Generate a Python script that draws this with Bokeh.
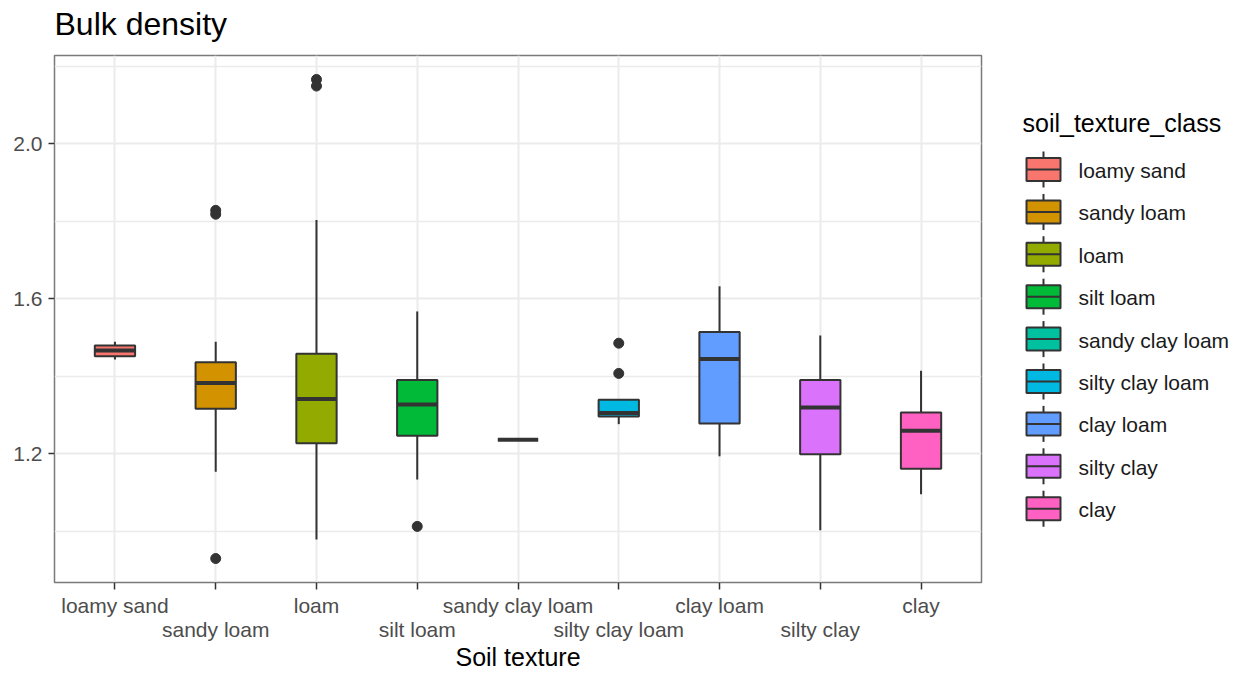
from bokeh.plotting import figure
from bokeh.models import FixedTicker, PrintfTickFormatter, LinearAxis, Range1d, ColumnDataSource, Title
from bokeh.layouts import row
from bokeh.embed import file_html
from bokeh.resources import INLINE

# ---------------- data ----------------
categories = ["loamy sand", "sandy loam", "loam", "silt loam", "sandy clay loam",
              "silty clay loam", "clay loam", "silty clay", "clay"]
q1 = [1.451, 1.316, 1.227, 1.246, 1.236, 1.296, 1.278, 1.198, 1.161]
median = [1.466, 1.382, 1.341, 1.327, 1.236, 1.305, 1.444, 1.319, 1.259]
q3 = [1.479, 1.436, 1.458, 1.390, 1.236, 1.339, 1.514, 1.390, 1.306]
whisker_low = [1.443, 1.153, 0.978, 1.133, 1.236, 1.276, 1.193, 1.002, 1.095]
whisker_high = [1.489, 1.489, 1.803, 1.567, 1.236, 1.339, 1.632, 1.505, 1.414]
outlier_class = ["sandy loam", "sandy loam", "sandy loam", "loam", "loam",
                 "silt loam", "silty clay loam", "silty clay loam"]
outlier_value = [1.828, 1.818, 0.929, 2.166, 2.149, 1.012, 1.485, 1.407]
colors = ["#F8766D", "#D39200", "#93AA00", "#00BA38", "#00C19F",
          "#00B9E3", "#619CFF", "#DB72FB", "#FF61C3"]
y_ticks = [1.2, 1.6, 2.0]
y_minor_ticks = [1.0, 1.4, 1.8, 2.2]
title_text = "Bulk density"
x_title = "Soil texture"
legend_title = "soil_texture_class"

FONT = "Liberation Sans"
EDGE = "#333333"
GRID = "#EBEBEB"
TICK_TXT = "#4D4D4D"
BOX_W = 0.4

# page layout (pixels)
MAIN_W, LEG_W, H = 990, 254, 673
FRAME_L, FRAME_R, FRAME_T, FRAME_B = 54, 981, 55, 582

xs = list(range(1, len(categories) + 1))
src = ColumnDataSource(dict(
    x=xs, cat=categories, q1=q1, q3=q3, med=median,
    lo=whisker_low, hi=whisker_high, color=colors,
    mx0=[v - BOX_W / 2 for v in xs], mx1=[v + BOX_W / 2 for v in xs],
))

all_vals = whisker_low + whisker_high + outlier_value
vmin, vmax = min(all_vals), max(all_vals)
pad = (vmax - vmin) * 0.05

p = figure(width=MAIN_W, height=H,
           x_range=Range1d(0.4, len(categories) + 0.6),
           y_range=Range1d(vmin - pad, vmax + pad),
           output_backend="svg", toolbar_location=None,
           min_border_left=FRAME_L, min_border_right=MAIN_W - FRAME_R,
           min_border_top=FRAME_T, min_border_bottom=H - FRAME_B,
           background_fill_color="white", border_fill_color="white")

# spacer title nearest the frame, then the real title above it
p.add_layout(Title(text=" ", text_font=FONT, text_font_size="8px", standoff=3), "above")
p.add_layout(Title(text=title_text, text_font=FONT, text_font_size="32px",
                   text_font_style="normal", text_color="black", align="left",
                   standoff=0), "above")

p.outline_line_color = "#7A7A7A"
p.outline_line_width = 1.5

# grid
p.xgrid.grid_line_color = GRID
p.xgrid.grid_line_width = 2
p.ygrid.grid_line_color = GRID
p.ygrid.grid_line_width = 2
p.ygrid.minor_grid_line_color = GRID
p.ygrid.minor_grid_line_width = 1.3

# y axis
ya = p.yaxis[0]
ya.ticker = FixedTicker(ticks=y_ticks, minor_ticks=y_minor_ticks)
ya.formatter = PrintfTickFormatter(format="%.1f")
ya.axis_line_color = None
ya.major_tick_line_color = EDGE
ya.major_tick_line_width = 1.5
ya.major_tick_out = 6
ya.major_tick_in = 0
ya.minor_tick_line_color = None
ya.major_label_standoff = 6
ya.major_label_text_font = FONT
ya.major_label_text_font_size = "21px"
ya.major_label_text_color = TICK_TXT

# x axis, first row of labels
xa = p.xaxis[0]
xa.ticker = FixedTicker(ticks=xs)
xa.major_label_overrides = {x: (c if i % 2 == 0 else "") for i, (x, c) in enumerate(zip(xs, categories))}
xa.axis_line_color = None
xa.major_tick_line_color = EDGE
xa.major_tick_line_width = 1.5
xa.major_tick_out = 7
xa.major_tick_in = 0
xa.minor_tick_line_color = None
xa.major_label_standoff = 4
xa.major_label_text_font = FONT
xa.major_label_text_font_size = "21px"
xa.major_label_text_color = TICK_TXT

# x axis, second row of labels (dodged)
odd = [x for i, x in enumerate(xs) if i % 2 == 1]
xb = LinearAxis(ticker=FixedTicker(ticks=odd),
                major_label_overrides={x: categories[x - 1] for x in odd})
xb.axis_line_color = None
xb.major_tick_line_color = None
xb.major_tick_out = 0
xb.major_tick_in = 0
xb.minor_tick_line_color = None
xb.major_label_standoff = -2
xb.major_label_text_font = FONT
xb.major_label_text_font_size = "21px"
xb.major_label_text_color = TICK_TXT
xb.axis_label = x_title
xb.axis_label_text_font = FONT
xb.axis_label_text_font_size = "25px"
xb.axis_label_text_font_style = "normal"
xb.axis_label_text_color = "black"
xb.axis_label_standoff = -1
p.add_layout(xb, "below")

# boxes
p.segment(x0="x", y0="q3", x1="x", y1="hi", source=src, line_color=EDGE, line_width=2)
p.segment(x0="x", y0="q1", x1="x", y1="lo", source=src, line_color=EDGE, line_width=2)
p.vbar(x="x", width=BOX_W, top="q3", bottom="q1", source=src,
       fill_color="color", line_color=EDGE, line_width=2)
p.segment(x0="mx0", y0="med", x1="mx1", y1="med", source=src, line_color=EDGE, line_width=4)

out_x = [categories.index(c) + 1 for c in outlier_class]
p.scatter(x=out_x, y=outlier_value, size=10, color=EDGE)

# ---------------- legend panel (its frame is aligned with the main frame) ----------------
leg = figure(width=LEG_W, height=H,
             x_range=Range1d(MAIN_W, MAIN_W + LEG_W), y_range=Range1d(FRAME_B, FRAME_T),
             x_axis_type=None, y_axis_type=None, output_backend="svg",
             toolbar_location=None, min_border_left=0, min_border_right=0,
             min_border_top=FRAME_T, min_border_bottom=H - FRAME_B,
             outline_line_color=None,
             background_fill_color="white", border_fill_color="white")

row0, step = 169, 42.4
cx, half_w, half_h, wh = 1043, 17, 11.5, 18
ry = [row0 + i * step for i in range(len(categories))]
lsrc = ColumnDataSource(dict(
    y=ry, cat=categories, color=colors,
    cx=[cx] * len(ry),
    l=[cx - half_w] * len(ry), r=[cx + half_w] * len(ry),
    t=[y - half_h for y in ry], b=[y + half_h for y in ry],
    wt=[y - wh for y in ry], wb=[y + wh for y in ry],
    tx=[1078] * len(ry), ty=[y + 1 for y in ry],
))
leg.segment(x0="cx", y0="wt", x1="cx", y1="wb", source=lsrc, line_color=EDGE, line_width=2)
leg.quad(left="l", right="r", top="t", bottom="b", source=lsrc,
         fill_color="color", line_color=EDGE, line_width=2)
leg.segment(x0="l", y0="y", x1="r", y1="y", source=lsrc, line_color=EDGE, line_width=2)
leg.text(x="tx", y="ty", text="cat", source=lsrc, text_font={"value": FONT},
         text_font_size={"value": "21px"}, text_color="#1A1A1A", text_baseline="middle")
leg.text(x=[1022], y=[122], text=[legend_title], text_font={"value": FONT},
         text_font_size={"value": "25px"}, text_color="black", text_baseline="middle")

layout = row(p, leg)
open("out.html", "w").write(file_html(layout, INLINE))
